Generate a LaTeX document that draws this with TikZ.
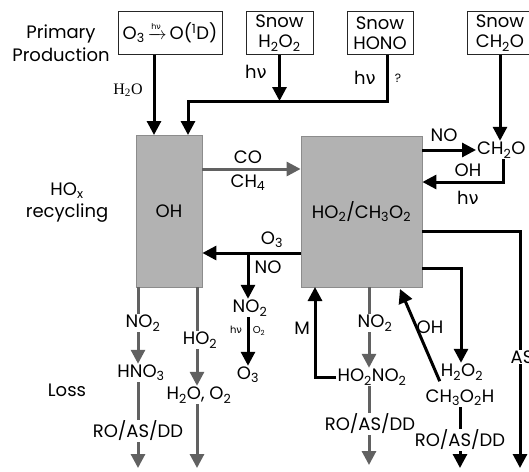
\documentclass[tikz,border=0pt]{standalone}
\usepackage{amsmath}
\usepackage{fontspec}
\setmainfont{Poppins}
\newfontfamily\grkfont{DejaVu Sans}
\newfontfamily\serffont{Liberation Serif}
\usetikzlibrary{arrows.meta,calc,positioning}
\newcommand{\hnu}{h{\grkfont ν}}
\newcommand{\sbs}[1]{\textsubscript{#1}}

\begin{document}
\begin{tikzpicture}[x=1pt, y=-1pt,
  font=\fontsize{18}{20}\selectfont,
  source/.style={draw=black!85, line width=1pt, fill=white, inner sep=1pt,
                 align=center, minimum height=43pt},
  pool/.style={draw=black!45, fill=black!30, line width=0.8pt, inner sep=0pt},
  lbl/.style={inner sep=1pt, align=center},
  small/.style={lbl, font=\fontsize{10}{10}\selectfont},
  blk/.style={line width=3pt, black},
  blkarr/.style={blk, -{Triangle[length=14pt, width=14pt]}},
  gry/.style={line width=3pt, black!62},
  gryarr/.style={gry, -{Triangle[length=14pt, width=14pt]}}
]
  \useasboundingbox (0,0) rectangle (529,471);
  \clip (0,0) rectangle (529,471);

  % Row titles.
  \node[lbl] (primlbl) at (61,43) {Primary\\[3pt]Production};
  \node[lbl] (hoxlbl) at (67,203) {HO\sbs{x}\\[2pt]recycling};
  \node[lbl] (losslbl) at (67,390) {Loss};

  % Primary sources.
  \node[source, minimum width=104pt] (prodbox) at (170,32.5)
    {O\sbs3\,$\xrightarrow{\text{\fontsize{8}{8}\selectfont\hnu}}$\,O(\textsuperscript{1}D)};
  \node[source, minimum width=67pt] (snowhtwo) at (279.5,33) {Snow\\H\sbs2O\sbs2};
  \node[source, minimum width=66pt] (snowhono) at (380,33) {Snow\\HONO};
  \node[source, minimum width=66pt] (snowform) at (500,33) {Snow\\CH\sbs2O};

  % HOx reservoirs.
  \node[pool, minimum width=66pt, minimum height=152pt] (ohbox) at (169,211) {OH};
  \node[pool, minimum width=121pt, minimum height=151pt] (hobox) at (361.5,211.5)
    {HO\sbs2/CH\sbs3O\sbs2};

  % Production into OH.
  \coordinate (ohinA) at (154,135);
  \coordinate (ohinB) at (188,135);
  \coordinate (joinA) at (279.5,101);
  \coordinate (honoA) at (387,101);
  \draw[blkarr] (prodbox.south -| ohinA) -- (ohinA);
  \node[lbl, font=\serffont\fontsize{16}{16}\selectfont] (waterlbl) at (128,90) {H\sbs2O};
  \draw[blkarr] (snowhtwo.south) -- (joinA);
  \draw[blkarr] (snowhono.south -| honoA) -- (honoA) -- (honoA -| ohinB) -- (ohinB);
  \node[lbl] (hvA) at (256,72) {\hnu};
  \node[lbl] (hvB) at (365,78) {\hnu};
  \node[lbl, font=\fontsize{12}{12}\selectfont] (qmark) at (398,78) {?};

  % Formaldehyde.
  \node[lbl, anchor=west] (formald) at (476,150) {CH\sbs2O};
  \coordinate (formdn) at (503,182);
  \draw[blkarr] (snowform.south) -- (snowform.south |- formald.north);
  \draw[blkarr] (hobox.east |- formald.west) -- (formald.west);
  \node[lbl] (noA) at (444,135) {NO};
  \draw[blkarr] (formald.south -| formdn) -- (formdn) -- (formdn -| hobox.east);
  \node[lbl] (ohA) at (468,170) {OH};
  \node[lbl] (hvC) at (468,198) {\hnu};

  % Recycling between the reservoirs.
  \coordinate (coA) at (250,169);
  \draw[gryarr] (ohbox.east |- coA) -- (hobox.west |- coA);
  \node[lbl] (colbl) at (248,157) {CO};
  \node[lbl] (chlbl) at (248,183) {CH\sbs4};
  \coordinate (othree) at (248,253);
  \draw[blkarr] (hobox.west |- othree) -- (ohbox.east |- othree);
  \node[lbl] (othreeA) at (272,240) {O\sbs3};
  \node[lbl] (noB) at (268,267) {NO};
  \node[lbl] (notwoA) at (250,308) {NO\sbs2};
  \node[lbl] (othreeB) at (248,375) {O\sbs3};
  \draw[blkarr] (othree) -- (othree |- notwoA.north);
  \draw[blkarr] (notwoA.south -| othree) -- (othreeB.north -| othree);
  \node[small] (hvD) at (236,330) {\hnu};
  \node[small] (otwoA) at (259,331) {O\sbs2};

  % Loss of OH.
  \coordinate (lossA) at (138,287);
  \coordinate (lossB) at (197,287);
  \node[lbl] (notwoB) at (143,323) {NO\sbs2};
  \node[lbl] (hnothree) at (141,373) {HNO\sbs3};
  \node[lbl] (roasA) at (138,431) {RO/AS/DD};
  \node[lbl] (hotwoA) at (200,340) {HO\sbs2};
  \node[lbl] (waterA) at (199,395) {H\sbs2O, O\sbs2};
  \coordinate (endA) at (138,468);
  \draw[gry] (lossA) -- (lossA |- notwoB.north);
  \draw[gryarr] (notwoB.south -| lossA) -- (hnothree.north -| lossA);
  \draw[gry] (hnothree.south -| lossA) -- (roasA.north -| lossA);
  \draw[gryarr] (roasA.south -| lossA) -- (endA);
  \draw[gry] (lossB) -- (lossB |- hotwoA.north);
  \draw[gryarr] (hotwoA.south -| lossB) -- (waterA.north -| lossB);
  \draw[gryarr] (waterA.south -| lossB) -- (lossB |- endA);

  % Loss of HO2 through HO2NO2.
  \coordinate (lossC) at (369,287);
  \coordinate (mup) at (315,287);
  \node[lbl] (notwoC) at (375,323) {NO\sbs2};
  \node[lbl] (pna) at (372,377) {HO\sbs2NO\sbs2};
  \node[lbl] (roasB) at (370,424) {RO/AS/DD};
  \node[lbl] (mlbl) at (302,328) {M};
  \coordinate (endB) at (369,465);
  \draw[gry] (lossC) -- (lossC |- notwoC.north);
  \draw[gryarr] (notwoC.south -| lossC) -- (pna.north -| lossC);
  \draw[gry] (pna.south -| lossC) -- (roasB.north -| lossC);
  \draw[gryarr] (roasB.south -| lossC) -- (endB);
  \draw[blkarr] (pna.west) -| (mup);

  % Loss of HO2 through peroxides.
  \coordinate (hpA) at (461,268);
  \coordinate (ohtip) at (400,289);
  \coordinate (endC) at (460,468);
  \node[lbl] (peroxA) at (462,372) {H\sbs2O\sbs2};
  \node[lbl] (peroxB) at (460,398) {CH\sbs3O\sbs2H};
  \node[lbl] (roasC) at (460,440) {RO/AS/DD};
  \node[lbl] (ohB) at (430,327) {OH};
  \draw[blkarr] (hobox.east |- hpA) -- (hpA) -- (hpA |- peroxA.north);
  \draw[blkarr] (peroxA.south west) -- (ohtip);
  \draw[blk] (peroxB.south) -- (roasC.north);
  \draw[blkarr] (roasC.south) -- (endC);

  % Aerosol scavenging.
  \coordinate (asA) at (520,231);
  \coordinate (endD) at (520,468);
  \draw[blkarr] (hobox.east |- asA) -- (asA) -- (endD);
  \node[lbl, fill=white] (aslbl) at (522,357) {AS};
\end{tikzpicture}
\end{document}
